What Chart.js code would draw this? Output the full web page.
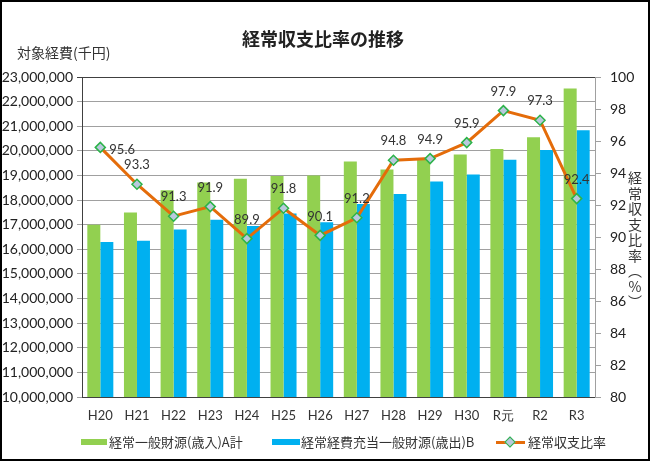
<!DOCTYPE html>
<html>
<head>
    <meta charset="UTF-8">
    <title>経常収支比率の推移</title>
    <script src="https://cdn.jsdelivr.net/npm/chart.js@4/dist/chart.umd.min.js"></script>
    <style>
        body {
            margin: 0;
            background-color: #fff;
            font-family: "Noto Sans CJK JP", sans-serif;
            color: #333;
        }
        #wrap {
            position: relative;
            width: 650px;
            height: 461px;
            overflow: hidden;
        }
        #frame {
            position: absolute;
            left: 0; top: 0;
            width: 650px; height: 461px;
            box-sizing: border-box;
            border: 2px solid #000;
            pointer-events: none;
        }
        .txt { position: absolute; white-space: nowrap; line-height: 1; }
        #title { left: 0; width: 646px; top: 29px; text-align: center; font-size: 18px; font-weight: bold; color: #222; }
        #yTitle { left: 17px; top: 45px; font-size: 14px; }
        #y1Title { left: 628px; top: 171px; font-size: 14px; writing-mode: vertical-rl; letter-spacing: 1.5px; }
        .sw { position: absolute; }
        .lg { position: absolute; top: 435px; font-size: 13px; line-height: 1; white-space: nowrap; }
    </style>
</head>
<body>
<div id="wrap">
    <canvas id="chart" width="650" height="461"></canvas>
    <div id="title" class="txt">経常収支比率の推移</div>
    <div id="yTitle" class="txt">対象経費(千円)</div>
    <div id="y1Title" class="txt">経常収支比率（<span style="text-orientation:upright">%</span>）</div>

    <!-- legend -->
    <div class="sw" style="left:81px;top:439px;width:26px;height:6px;background:#92D050"></div>
    <div class="lg" style="left:109px">経常一般財源(歳入)A計</div>
    <div class="sw" style="left:272px;top:439px;width:28px;height:6px;background:#00B0F0"></div>
    <div class="lg" style="left:301px">経常経費充当一般財源(歳出)B</div>
    <div class="sw" style="left:496px;top:441px;width:29px;height:3px;background:#E46C0A"></div>
    <div class="sw" style="left:506px;top:438px;width:6px;height:6px;background:#B9C9DD;border:1.5px solid #2DB34A;transform:rotate(45deg)"></div>
    <div class="lg" style="left:528px">経常収支比率</div>
    <div id="frame"></div>
</div>

<script>
    var years = ['H20', 'H21', 'H22', 'H23', 'H24', 'H25', 'H26', 'H27', 'H28', 'H29', 'H30', 'R元', 'R2', 'R3'];
    // 経常一般財源(歳入)A計 (千円)
    var revenueA = [17000000, 17500000, 18400000, 18710000, 18870000, 18980000, 19000000, 19570000, 19240000, 19700000, 19850000, 20070000, 20550000, 22530000];
    // 経常経費充当一般財源(歳出)B (千円)
    var expenseB = [16300000, 16350000, 16800000, 17200000, 16950000, 17450000, 17100000, 17840000, 18250000, 18750000, 19040000, 19640000, 20030000, 20840000];
    // 経常収支比率 (%)
    var ratio = [95.6, 93.3, 91.3, 91.9, 89.9, 91.8, 90.1, 91.2, 94.8, 94.9, 95.9, 97.9, 97.3, 92.4];

    var tickFont = { family: 'Lato', size: 14 };

    // value labels on the line points
    var lineLabels = {
        id: 'lineLabels',
        afterDatasetsDraw: function (chart) {
            var meta = chart.getDatasetMeta(2);
            var ctx = chart.ctx;
            ctx.save();
            ctx.font = '13px Lato';
            ctx.fillStyle = '#333';
            ctx.textBaseline = 'middle';
            meta.data.forEach(function (pt, i) {
                var txt = ratio[i].toFixed(1);
                if (i === 0) {
                    ctx.textAlign = 'left';
                    ctx.fillText(txt, pt.x + 9, pt.y + 2);
                } else {
                    ctx.textAlign = 'center';
                    ctx.fillText(txt, pt.x, pt.y - 19);
                }
            });
            ctx.restore();
        }
    };

    new Chart(document.getElementById('chart'), {
        type: 'bar',
        data: {
            labels: years,
            datasets: [{
                label: '経常一般財源(歳入)A計',
                data: revenueA,
                backgroundColor: '#92D050',
                yAxisID: 'y',
                order: 2,
                categoryPercentage: 0.71,
                barPercentage: 1.0
            }, {
                label: '経常経費充当一般財源(歳出)B',
                data: expenseB,
                backgroundColor: '#00B0F0',
                yAxisID: 'y',
                order: 2,
                categoryPercentage: 0.71,
                barPercentage: 1.0
            }, {
                type: 'line',
                label: '経常収支比率',
                data: ratio,
                yAxisID: 'y1',
                order: 0,
                borderColor: '#E46C0A',
                borderWidth: 3,
                tension: 0,
                pointStyle: 'rectRot',
                pointRadius: 5,
                pointBackgroundColor: '#B9C9DD',
                pointBorderColor: '#2DB34A',
                pointBorderWidth: 1.5
            }]
        },
        options: {
            responsive: false,
            animation: false,
            layout: { padding: { top: 77, left: 0, right: 0, bottom: 0 } },
            plugins: {
                legend: { display: false },
                tooltip: { enabled: false },
                title: { display: false }
            },
            scales: {
                x: {
                    grid: { display: true, drawOnChartArea: false, drawTicks: false },
                    border: { color: '#404040', width: 1 },
                    ticks: { color: '#333', font: { family: 'Lato', size: 13 }, padding: 11, maxRotation: 0 },
                    afterFit: function (s) { s.height = 64; }
                },
                y: {
                    position: 'left',
                    min: 10000000,
                    max: 23000000,
                    grid: {
                        color: function (c) { return c.tick && c.tick.value === 23000000 ? '#404040' : '#a0a0a0'; },
                        tickLength: 5
                    },
                    border: { color: '#404040', width: 1 },
                    ticks: {
                        stepSize: 1000000,
                        color: '#222',
                        font: tickFont,
                        padding: 4,
                        callback: function (v) { return v.toLocaleString('en-US'); }
                    },
                    afterFit: function (s) { s.width = 82; }
                },
                y1: {
                    position: 'right',
                    min: 80,
                    max: 100,
                    grid: { drawOnChartArea: false, color: '#a0a0a0', tickLength: 6 },
                    border: { color: '#a0a0a0', width: 1 },
                    ticks: { stepSize: 2, color: '#222', font: tickFont, padding: 9 },
                    afterFit: function (s) { s.width = 55; }
                }
            }
        },
        plugins: [lineLabels]
    });
</script>
</body>
</html>
